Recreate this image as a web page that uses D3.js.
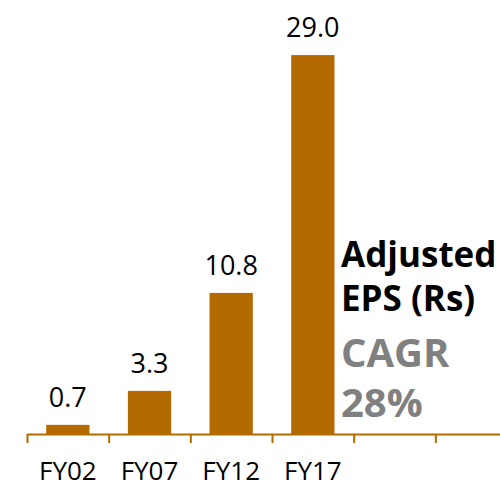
<!DOCTYPE html>
<html>
<head>
<meta charset="utf-8">
<script src="https://cdn.jsdelivr.net/npm/d3@7"></script>
<style>
  body { margin: 0; background: #fff; }
  svg { display: block; }
</style>
</head>
<body>
<script>
var categories = ["FY02", "FY07", "FY12", "FY17"];
var values = [0.7, 3.3, 10.8, 29.0];
var slots = 6; // axis has two empty category slots after FY17
var titleLines = ["Adjusted", "EPS (Rs)"];
var cagrLines = ["CAGR", "28%"];

window.onload = () => {
    var width = 500;
    var height = 488;
    var brown = "#b36b00";
    var font = "'Open Sans', 'Noto Sans', sans-serif";

    var svg = d3.select("body").append("svg")
        .attr("width", width)
        .attr("height", height);

    var slotNames = d3.range(slots).map(function (i) { return categories[i] || ("slot" + i); });

    var xscale = d3.scaleBand()
        .domain(slotNames)
        .range([27, 517])
        .paddingInner(0.47)
        .paddingOuter(0.235);

    var yscale = d3.scaleLinear()
        .domain([0, 30])
        .range([434, 42]);

    // axis with ticks on the band boundaries
    var edge = d3.scaleLinear().domain([0, slots]).range([27, 517]);
    var axis = d3.axisBottom(edge)
        .tickValues(d3.range(slots))
        .tickFormat("")
        .tickSize(9)
        .tickSizeOuter(0);

    var gAxis = svg.append("g")
        .attr("transform", "translate(0,434)")
        .call(axis);
    gAxis.select(".domain").attr("stroke", brown).attr("stroke-width", 2);
    gAxis.selectAll(".tick line").attr("stroke", brown).attr("stroke-width", 2);

    var data = categories.map(function (c, i) { return { c: c, v: values[i] }; });

    svg.append("g").selectAll("rect").data(data)
        .enter().append("rect")
        .attr("x", function (d) { return xscale(d.c); })
        .attr("width", xscale.bandwidth())
        .attr("y", function (d) { return yscale(d.v); })
        .attr("height", function (d) { return yscale(0) - yscale(d.v); })
        .attr("fill", brown);

    svg.append("g").selectAll("text").data(data)
        .enter().append("text")
        .attr("x", function (d) { return xscale(d.c) + xscale.bandwidth() / 2; })
        .attr("y", function (d) { return yscale(d.v) - 18; })
        .attr("text-anchor", "middle")
        .style("font-family", font)
        .style("font-size", "27px")
        .style("fill", "#000")
        .text(function (d) { return d.v.toFixed(1); });

    svg.append("g").selectAll("text").data(categories)
        .enter().append("text")
        .attr("x", function (d) { return xscale(d) + xscale.bandwidth() / 2; })
        .attr("y", 480)
        .attr("text-anchor", "middle")
        .style("font-family", font)
        .style("font-size", "26px")
        .style("fill", "#000")
        .text(function (d) { return d; });

    // annotation
    var ann = svg.append("g")
        .style("font-family", font)
        .style("font-weight", "bold");
    ann.selectAll(".t").data(titleLines).enter().append("text")
        .attr("x", 341)
        .attr("y", function (d, i) { return 267 + i * 44; })
        .style("font-size", "35px")
        .style("fill", "#000")
        .text(function (d) { return d; });
    ann.selectAll(".c").data(cagrLines).enter().append("text")
        .attr("x", 341)
        .attr("y", function (d, i) { return 367 + i * 50; })
        .style("fill", "#808080")
        .style("font-size", "40px")
        .text(function (d) { return d; });
};
</script>
</body>
</html>
